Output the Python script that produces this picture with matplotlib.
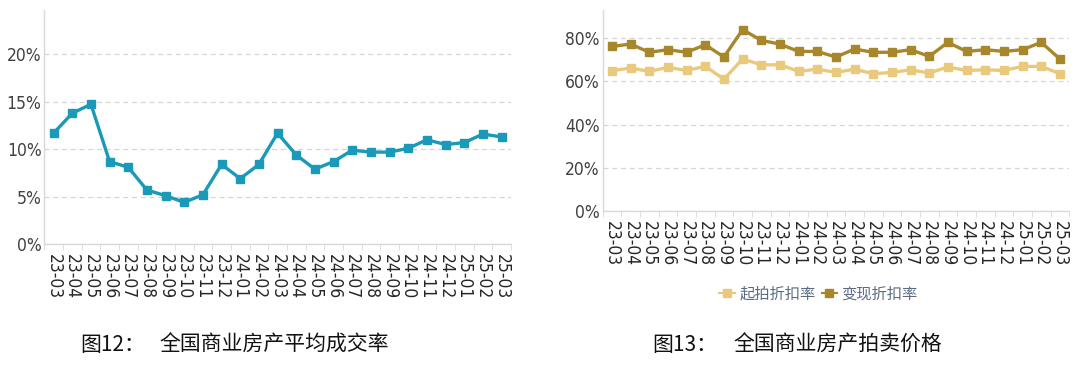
import matplotlib.pyplot as plt
import numpy as np
from matplotlib.ticker import FixedLocator

plt.rcParams['font.family'] = ['Noto Sans CJK SC', 'DejaVu Sans']

months = ['23-03', '23-04', '23-05', '23-06', '23-07', '23-08', '23-09', '23-10',
          '23-11', '23-12', '24-01', '24-02', '24-03', '24-04', '24-05', '24-06',
          '24-07', '24-08', '24-09', '24-10', '24-11', '24-12', '25-01', '25-02', '25-03']

# 平均成交率 (%)
deal_rate = [11.7, 13.8, 14.75, 8.7, 8.1, 5.7, 5.1, 4.4, 5.2, 8.4, 6.9, 8.4, 11.7,
             9.4, 7.9, 8.7, 9.9, 9.7, 9.7, 10.1, 11.0, 10.5, 10.7, 11.6, 11.3]

# 起拍折扣率 / 变现折扣率 (%)
start_disc = [64.9, 66.1, 64.6, 66.4, 65.0, 66.9, 61.0, 70.3, 67.6, 67.6, 64.6, 65.6, 64.1,
              65.6, 63.5, 64.1, 65.3, 63.8, 66.6, 65.0, 65.3, 65.0, 66.9, 66.9, 63.5]
cash_disc = [76.1, 77.2, 73.4, 74.6, 73.4, 76.9, 71.2, 83.9, 78.9, 77.2, 73.8, 73.8, 71.2,
             74.9, 73.4, 73.4, 74.6, 71.5, 78.0, 73.8, 74.6, 73.8, 74.6, 78.0, 70.3]

left_ticks = [0, 5, 10, 15, 20]
right_ticks = [0, 20, 40, 60, 80]

x = np.arange(len(months))

fig = plt.figure(figsize=(10.8, 3.67), dpi=100)
ax1 = fig.add_axes([0.041, 0.335, 0.432, 0.638])
ax2 = fig.add_axes([0.558, 0.425, 0.432, 0.548])


def style(ax, yticks, ytop):
    ax.set_xlim(-0.5, len(months) - 0.5)
    ax.set_ylim(0, ytop)
    ax.set_yticks(yticks)
    ax.set_yticklabels([f'{t}%' for t in yticks], family='DejaVu Sans',
                       fontstretch='condensed', fontsize=12.5, color='#404040')
    ax.set_xticks(x)
    ax.set_xticklabels(months, rotation=270, family='DejaVu Sans', fontstretch='condensed',
                       fontsize=12.5, color='#262626')
    ax.tick_params(axis='x', which='major', length=0, pad=7)
    ax.xaxis.set_minor_locator(FixedLocator(np.arange(-0.5, len(months), 1)))
    ax.tick_params(axis='x', which='minor', length=4, color='#d9d9d9')
    ax.tick_params(axis='y', length=0, pad=2)
    ax.grid(axis='y', linestyle=(0, (4, 3)), color='#d6d6d6', linewidth=0.9)
    ax.set_axisbelow(True)
    for s in ['top', 'right']:
        ax.spines[s].set_visible(False)
    for s in ['left', 'bottom']:
        ax.spines[s].set_color('#d9d9d9')
        ax.spines[s].set_linewidth(1)


ax1.plot(x, deal_rate, color='#1a9ab8', lw=2.4, marker='s', ms=6)
style(ax1, left_ticks, 24.7)

ax2.plot(x, start_disc, color='#e9c97c', lw=2.4, marker='s', ms=6, label='起拍折扣率')
ax2.plot(x, cash_disc, color='#a8862a', lw=2.4, marker='s', ms=6, label='变现折扣率')
style(ax2, right_ticks, 93)

leg = fig.legend(loc='center', bbox_to_anchor=(0.758, 0.2), ncol=2, frameon=False,
                 fontsize=11, handlelength=1.0, handletextpad=0.3, columnspacing=0.4,
                 labelcolor='#5b6b82', markerscale=1.0)
for h in leg.legend_handles:
    h.set_linewidth(1.5)

fig.text(0.074, 0.06, '图12：', fontsize=15, va='center', color='#111111')
fig.text(0.148, 0.06, '全国商业房产平均成交率', fontsize=15, va='center', color='#111111')
fig.text(0.604, 0.06, '图13：', fontsize=15, va='center', color='#111111')
fig.text(0.679, 0.06, '全国商业房产拍卖价格', fontsize=15, va='center', color='#111111')

fig.savefig('out.png', dpi=100)
